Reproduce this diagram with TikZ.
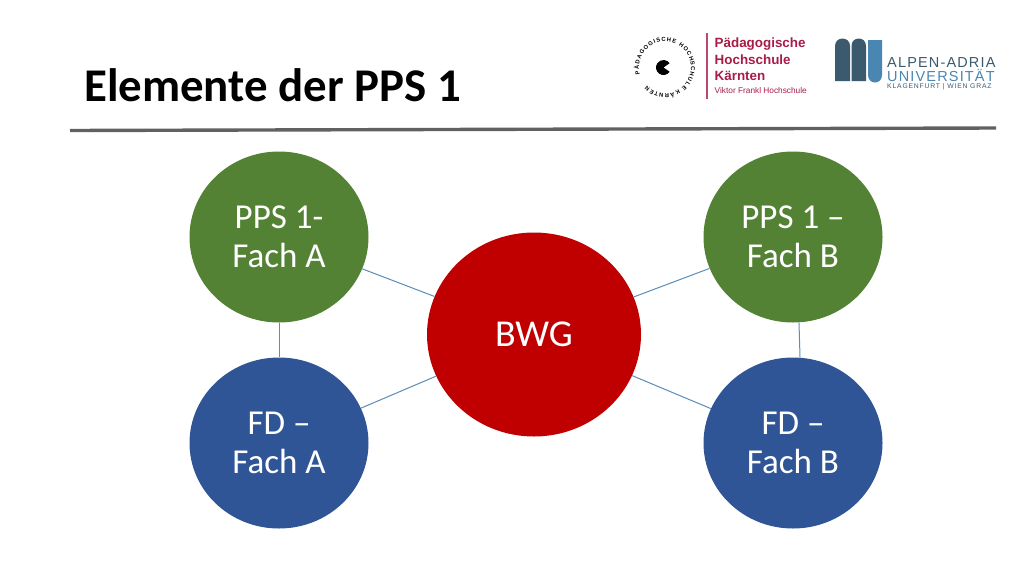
\documentclass[tikz,border=0pt]{standalone}
\usepackage{fontspec}
\setmainfont{Carlito}
\newfontfamily\logofont{Liberation Sans}
\newfontfamily\wordfont[LetterSpace=8]{Liberation Sans}
\newfontfamily\smallwordfont[LetterSpace=12]{Liberation Sans}
\usetikzlibrary{shapes.geometric,decorations.text}
\definecolor{cgreen}{HTML}{548235}
\definecolor{cblue}{HTML}{2F5597}
\definecolor{cred}{HTML}{C00000}
\definecolor{clink}{HTML}{5B8DB8}
\definecolor{phred}{HTML}{A81C48}
\definecolor{aadark}{HTML}{3B5A6D}
\definecolor{aablue}{HTML}{4A86B2}
\tikzset{
  x=1pt,y=-1pt,
  blob/.style={ellipse,inner sep=0pt,minimum width=179pt,minimum height=171pt,text=white,align=center,font=\fontsize{35}{39}\selectfont},
  link/.style={draw=clink,line width=1pt},
  phtext/.style={anchor=west,inner sep=0pt,text=phred,font=\logofont\bfseries\fontsize{13.4}{14}\selectfont},
  aatext/.style={anchor=west,inner sep=0pt},
}
\begin{document}
\begin{tikzpicture}
\useasboundingbox (0,0) rectangle (1024,576);
\fill[white] (0,0) rectangle (1024,576);
\node[anchor=west,inner sep=0pt,font=\bfseries\fontsize{46.9}{50}\selectfont] (title) at (84,85) {Elemente der PPS 1};
\coordinate (ruleL) at (70,130.5);
\coordinate (ruleR) at (996,128);
\draw[line width=3.4pt,color=black!62] (ruleL) -- (ruleR);
% diagram
\node[blob,fill=cred,minimum width=214pt,minimum height=204pt,font=\fontsize{38}{39}\selectfont] (bwg) at (534,334.5) {BWG};
\node[blob,fill=cgreen] (ppsa) at (279,237) {PPS 1-\\Fach A};
\node[blob,fill=cgreen] (ppsb) at (793,237) {PPS 1 –\\Fach B};
\node[blob,fill=cblue] (fda) at (279,443) {FD –\\Fach A};
\node[blob,fill=cblue] (fdb) at (793,443) {FD –\\Fach B};
\draw[link] (ppsa) -- (bwg);
\draw[link] (ppsb) -- (bwg);
\draw[link] (fda) -- (bwg);
\draw[link] (fdb) -- (bwg);
\draw[link] (ppsa) -- (fda);
\draw[link] ([xshift=6pt]ppsb.south) -- ([xshift=7pt]fdb.north);
% PH logo
\path[decorate,decoration={text along path,text align=fit to path,
   text={|\logofont\bfseries\fontsize{5.8}{6}\selectfont|PÄDAGOGISCHE HOCHSCHULE KÄRNTEN}}]
   (665,67.5) ++(-195:26) arc[start angle=-195,end angle=134,radius=26];
\fill[black] (663.5,67.5) ++(35:7.5) arc[start angle=35,end angle=325,radius=7.5] -- (663.5,67.5) -- cycle;
\draw[line width=1.3pt,draw=phred!80] (707,33) -- (707,99);
\node[phtext] (ph1) at (714.5,44.5) {Pädagogische};
\node[phtext] (ph2) at (714.5,60) {Hochschule};
\node[phtext] (ph3) at (714.5,75.5) {Kärnten};
\node[phtext,font=\logofont\fontsize{8.3}{9}\selectfont] (ph4) at (714.5,91) {Viktor Frankl Hochschule};
% AAU logo
\fill[aadark] (835,81) -- (835,46) .. controls (835,36) and (850,36) .. (850,46) -- (850,81) -- cycle;
\fill[aadark] (851.5,81) -- (851.5,46) .. controls (851.5,36) and (866,36) .. (866,46) -- (866,81) -- cycle;
\fill[aablue] (868,40) -- (882,40) -- (882,75) .. controls (882,85) and (868,85) .. (868,75) -- cycle;
\node[aatext,text=aadark,font=\wordfont\fontsize{14.5}{15}\selectfont] (aa1) at (887,62.5) {ALPEN-ADRIA};
\node[aatext,text=aablue,font=\wordfont\fontsize{14.5}{15}\selectfont] (aa2) at (887,75.5) {UNIVERSITÄT};
\node[aatext,text=aadark,font=\smallwordfont\fontsize{6.8}{7}\selectfont] (aa3) at (887,87) {KLAGENFURT | WIEN GRAZ};
\end{tikzpicture}
\end{document}
